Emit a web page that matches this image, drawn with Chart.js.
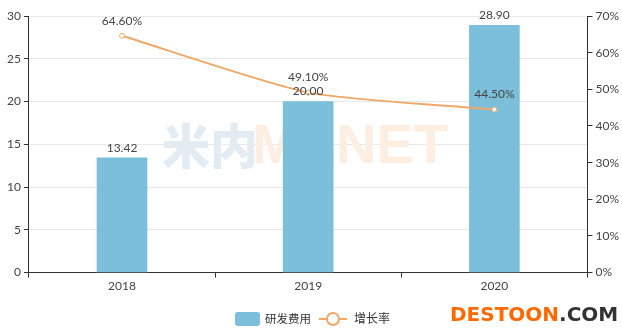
<!DOCTYPE html>
<html><head><meta charset="utf-8">
<script src="https://cdn.jsdelivr.net/npm/chart.js@4"></script>
<style>html,body{margin:0;padding:0;background:#fff}#w{position:relative;width:622px;height:333px}</style>
</head><body><div id="w"><canvas id="c" width="622" height="333"></canvas></div>
<script>
const categories = ['2018', '2019', '2020'];
const rdCost = [13.42, 20.00, 28.90];
const growthRate = [64.60, 49.10, 44.50];
const leftTicks = [0, 5, 10, 15, 20, 25, 30];
const rightTicks = [0, 10, 20, 30, 40, 50, 60, 70];
const seriesNames = ['研发费用', '增长率'];

const FONT = 'Lato, "Noto Sans CJK SC", sans-serif';
const BAR = '#7bbfdb', LINE = '#f0a868';

const labelPlugin = {
  id: 'labels',
  beforeDatasetsDraw(chart){
    const {ctx} = chart;
    ctx.save();
    ctx.textBaseline = 'middle';
    const y = 146;
    ctx.font = '900 48px "Noto Sans CJK SC", sans-serif';
    ctx.fillStyle = '#e3ecf2';
    ctx.fillText('米内', 162, y);
    ctx.fillStyle = '#fdeee2';
    ctx.font = 'bold 56px "Liberation Sans", sans-serif';
    ctx.fillText('MENET', 252, y + 2);
    ctx.restore();
  },
  afterDatasetsDraw(chart){
    const {ctx} = chart;
    ctx.save();
    ctx.font = '12px ' + FONT;
    ctx.fillStyle = '#444';
    ctx.textAlign = 'center';
    ctx.textBaseline = 'bottom';
    chart.getDatasetMeta(0).data.forEach((el, i) => {
      ctx.fillText(rdCost[i].toFixed(2), el.x, el.y - 4);
    });
    chart.getDatasetMeta(1).data.forEach((el, i) => {
      ctx.fillText(growthRate[i].toFixed(2) + '%', el.x, el.y - 9);
    });
    ctx.restore();
  },
  afterDraw(chart){
    const {ctx} = chart;
    ctx.save();
    // legend
    const ly = 319;
    ctx.fillStyle = BAR;
    ctx.beginPath(); ctx.roundRect(235, ly - 7, 25, 14, 3); ctx.fill();
    ctx.font = '11.5px ' + FONT;
    ctx.fillStyle = '#333';
    ctx.textBaseline = 'middle';
    ctx.textAlign = 'left';
    ctx.fillText(seriesNames[0], 265, ly);
    ctx.strokeStyle = LINE; ctx.lineWidth = 2;
    ctx.beginPath(); ctx.moveTo(319, ly); ctx.lineTo(347, ly); ctx.stroke();
    ctx.fillStyle = '#fff';
    ctx.beginPath(); ctx.arc(333, ly, 6, 0, Math.PI * 2); ctx.fill(); ctx.stroke();
    ctx.fillStyle = '#333';
    ctx.font = '12px ' + FONT;
    ctx.fillText(seriesNames[1], 354, ly);
    // site mark
    ctx.textBaseline = 'alphabetic';
    ctx.font = 'bold 20px "DejaVu Sans", sans-serif';
    ctx.fillStyle = '#ff6a00';
    ctx.fillText('DESTOON', 450, 321);
    const w = ctx.measureText('DESTOON').width;
    ctx.fillStyle = '#333';
    ctx.fillText('.COM', 450 + w, 321);
    ctx.restore();
  }
};

new Chart(document.getElementById('c'), {
  data: {
    labels: categories,
    datasets: [
      { type: 'bar', label: seriesNames[0], data: rdCost, backgroundColor: BAR, yAxisID: 'y',
        barThickness: 50, order: 2 },
      { type: 'line', label: seriesNames[1], data: growthRate, borderColor: LINE, borderWidth: 2,
        backgroundColor: '#fff', pointRadius: 2.5, pointBorderWidth: 1, pointBackgroundColor: '#fff',
        pointBorderColor: LINE, tension: 0.2, yAxisID: 'y1', order: 1 }
    ]
  },
  options: {
    responsive: false, animation: false,
    layout: { padding: { left: 4, right: 0, top: 16, bottom: 39 } },
    plugins: {
      tooltip: { enabled: false },
      legend: { display: false }
    },
    scales: {
      x: {
        offset: true,
        grid: { offset: true, drawOnChartArea: false, drawTicks: true, tickLength: 5, color: '#333' },
        border: { color: '#333', width: 1 },
        ticks: { color: '#444', font: { size: 12, family: FONT }, padding: 1 }
      },
      y: {
        position: 'left', min: 0, max: 30,
        afterBuildTicks(s){ s.ticks = leftTicks.map(v => ({value: v})); },
        grid: { color: '#e8e8e8', tickLength: 5, tickColor: '#333' },
        border: { color: '#333', width: 1 },
        ticks: { color: '#444', font: { size: 12, family: FONT }, padding: 3 }
      },
      y1: {
        position: 'right', min: 0, max: 70,
        afterBuildTicks(s){ s.ticks = rightTicks.map(v => ({value: v})); },
        grid: { drawOnChartArea: false, tickLength: 5, color: '#333' },
        border: { color: '#333', width: 1 },
        ticks: { color: '#444', font: { size: 12, family: FONT }, padding: 3, callback: v => v + '%' }
      }
    }
  },
  plugins: [labelPlugin]
});
</script></body></html>
